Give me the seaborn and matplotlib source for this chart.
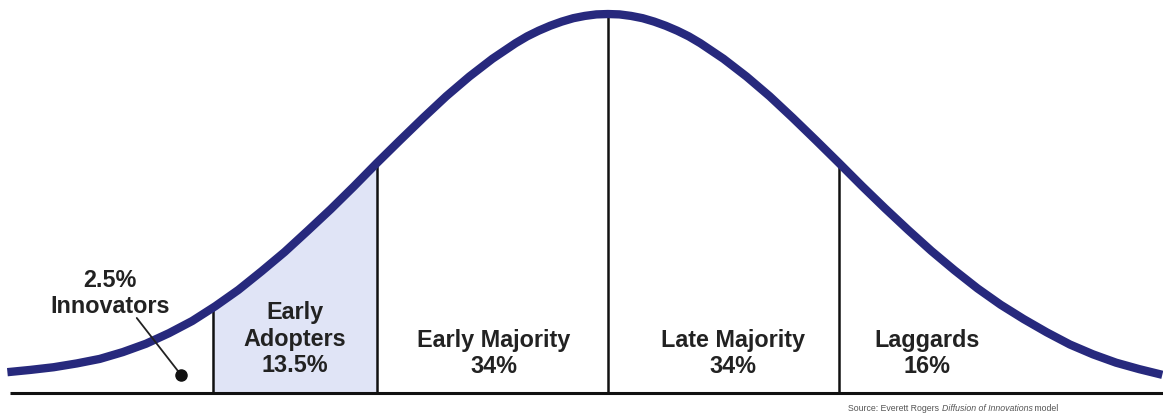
import numpy as np
import pandas as pd
import seaborn as sns
import matplotlib.pyplot as plt

# curve (x in std devs from the mean, height relative to peak)
curve_x = [-2.6, -2.5, -2.4, -2.3, -2.2, -2.1, -2.0, -1.9, -1.8, -1.7, -1.6, -1.5,
           -1.4, -1.3, -1.2, -1.1, -1.0, -0.9, -0.8, -0.7, -0.6, -0.5, -0.4, -0.35,
           -0.3, -0.25, -0.2, -0.15, -0.1, -0.05, 0.0, 0.05, 0.1, 0.15, 0.2, 0.25,
           0.3, 0.35, 0.4, 0.5, 0.6, 0.7, 0.8, 0.9, 1.0, 1.1, 1.2, 1.3, 1.4, 1.5,
           1.6, 1.7, 1.8, 1.9, 2.0, 2.1, 2.2, 2.3, 2.4]
curve_h = [0.055, 0.061, 0.068, 0.078, 0.090, 0.108, 0.130, 0.158, 0.190, 0.229,
           0.272, 0.321, 0.372, 0.428, 0.485, 0.545, 0.607, 0.667, 0.726, 0.783,
           0.835, 0.882, 0.923, 0.941, 0.956, 0.969, 0.980, 0.989, 0.995, 0.999,
           1.000, 0.999, 0.995, 0.989, 0.980, 0.969, 0.956, 0.941, 0.923, 0.882,
           0.835, 0.783, 0.726, 0.667, 0.607, 0.546, 0.487, 0.430, 0.375, 0.324,
           0.276, 0.233, 0.195, 0.160, 0.128, 0.102, 0.080, 0.063, 0.048]

# segment boundaries and the curve height there
divider_x = [-1.71, -1.0, 0.0, 1.0]
divider_h = [0.225, 0.607, 1.000, 0.607]

segments = ["Innovators", "Early\nAdopters", "Early Majority", "Late Majority", "Laggards"]
shares = ["2.5%", "13.5%", "34%", "34%", "16%"]

df = pd.DataFrame({"x": curve_x, "h": curve_h})

sns.set_theme(style="white")
plt.rcParams["font.family"] = ["Liberation Sans", "DejaVu Sans"]

fig = plt.figure(figsize=(11.63, 4.17), dpi=100)
ax = fig.add_axes([0, 0, 1, 1])
ax.set_xlim(-2.632, 2.403)
ax.set_ylim(-0.0633, 1.037)
ax.axis("off")

# early adopters shading
m = (df.x > divider_x[0]) & (df.x < divider_x[1])
fx = [divider_x[0]] + list(df.x[m]) + [divider_x[1]]
fh = [divider_h[0]] + list(df.h[m]) + [divider_h[1]]
ax.fill_between(fx, 0, fh, color="#e0e4f6", zorder=1)

# baseline and dividers
ax.hlines(0, -2.59, 2.403, color="#111111", lw=2.2, zorder=2)
ax.vlines(divider_x, 0, divider_h, color="#111111", lw=1.8, zorder=2)

sns.lineplot(data=df, x="x", y="h", ax=ax, color="#27297d", lw=6,
             solid_joinstyle="round", solid_capstyle="butt", zorder=3)

txt = dict(ha="center", va="center", fontsize=16.8, fontweight="bold",
           color="#222222", linespacing=1.18)
# innovators label with pointer
ax.text(-2.156, 0.262, shares[0] + "\n" + segments[0], **txt)
ax.plot([-2.04, -1.848], [0.198, 0.0475], color="#222222", lw=1.3, zorder=4)
ax.plot([-1.848], [0.0475], "o", color="#111111", ms=8, zorder=4)

label_x = [-1.355, -0.494, 0.541, 1.381]
label_y = [0.142, 0.104, 0.104, 0.104]
for name, share, lx, ly in zip(segments[1:], shares[1:], label_x, label_y):
    ax.text(lx, ly, name + "\n" + share, **txt)

src = ax.text(1.04, -0.04, "Source: Everett Rogers ", fontsize=6.3,
              color="#555555", va="center", ha="left")
src2 = ax.annotate("Diffusion of Innovations", xy=(1, 0), xycoords=src,
                   fontsize=6.3, color="#555555", style="italic", va="bottom")
ax.annotate(" model", xy=(1, 0), xycoords=src2, fontsize=6.3,
            color="#555555", va="bottom")

plt.savefig("out.png", dpi=100)
